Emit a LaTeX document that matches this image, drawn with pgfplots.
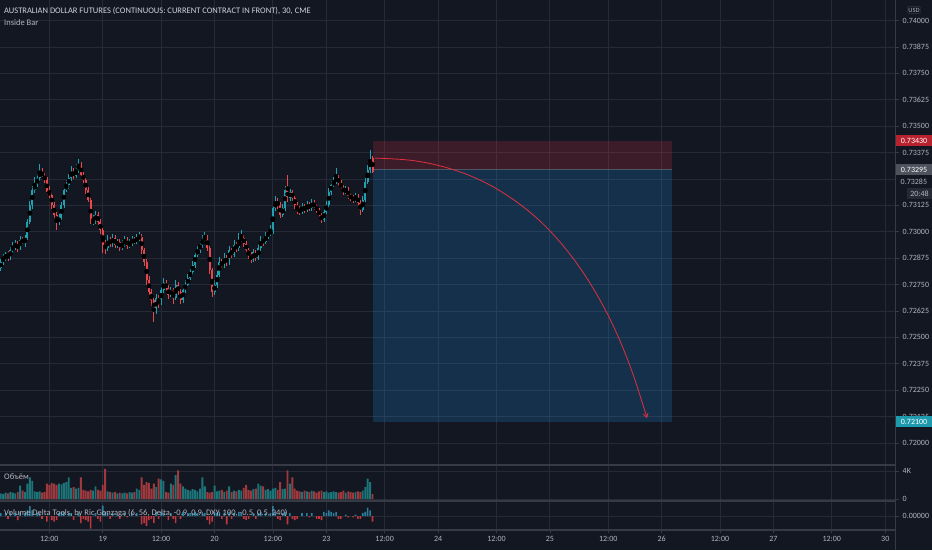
\documentclass[border=0pt]{standalone}
\usepackage{fontspec}
\setmainfont{Carlito}
\usepackage{pgfplots}
\pgfplotsset{compat=1.18}
\usepackage{pgfplotstable}
\usetikzlibrary{arrows.meta}
\definecolor{bg}{HTML}{131722}
\definecolor{gridc}{HTML}{262A36}
\definecolor{sepc}{HTML}{363A45}
\definecolor{txt}{HTML}{B2B5BE}
\definecolor{ttl}{HTML}{D1D4DC}
\definecolor{upc}{HTML}{21A0B0}
\definecolor{dnc}{HTML}{E5484D}
\definecolor{vup}{HTML}{1D7479}
\definecolor{vdn}{HTML}{9E3A3E}
\definecolor{dup}{HTML}{2B7E9C}
\definecolor{ddn}{HTML}{C2363E}
\definecolor{posred}{HTML}{F23645}
\definecolor{posblue}{HTML}{2196F3}
\definecolor{lblred}{HTML}{B8212E}
\definecolor{lblgray}{HTML}{4E525D}
\definecolor{lblteal}{HTML}{1E9AAE}
\definecolor{cntbg}{HTML}{262A35}
\definecolor{arrowc}{HTML}{E0313F}
\definecolor{entryc}{HTML}{4A5566}

\pgfplotstableread{
x o h l c v d
-20 0.72828 0.72870 0.72815 0.72857 800 0.2
-19 0.72857 0.72895 0.72845 0.72876 700 0
-18 0.72876 0.72905 0.72860 0.72890 900 0.2
-17 0.72890 0.72910 0.72860 0.72876 800 -0.2
-16 0.72876 0.72930 0.72866 0.72914 1000 0.3
-15 0.72914 0.72950 0.72900 0.72928 900 0
-14 0.72928 0.72960 0.72915 0.72942 800 0.2
-13 0.72942 0.72955 0.72905 0.72923 1000 -0.3
-12 0.72923 0.72980 0.72915 0.72961 1900 0.3
-11 0.72961 0.72975 0.72940 0.72952 1200 0
-10 0.72952 0.72985 0.72930 0.72971 1000 0.2
-9 0.72971 0.73060 0.72960 0.73046 2200 0.4
-8 0.73046 0.73145 0.73035 0.73127 3100 0.7
-7 0.73127 0.73215 0.73110 0.73198 2600 0.4
-6 0.73198 0.73260 0.73185 0.73222 1100 0
-5 0.73222 0.73275 0.73210 0.73255 1000 0.2
-4 0.73255 0.73320 0.73240 0.73284 1100 0.2
-3 0.73284 0.73300 0.73250 0.73265 900 -0.2
-2 0.73265 0.73280 0.73230 0.73246 1000 0
-1 0.73246 0.73260 0.73175 0.73189 2200 -0.4
0 0.73189 0.73215 0.73160 0.73175 2000 0
1 0.73175 0.73190 0.73110 0.73127 2300 -0.3
2 0.73127 0.73140 0.73060 0.73080 2200 -0.4
3 0.73080 0.73095 0.73010 0.73046 2000 -0.3
4 0.73046 0.73085 0.73030 0.73065 2200 0.2
5 0.73065 0.73140 0.73055 0.73127 2100 0.3
6 0.73127 0.73215 0.73115 0.73198 2300 0.3
7 0.73198 0.73245 0.73190 0.73222 2400 0
8 0.73222 0.73275 0.73205 0.73255 3100 0.2
9 0.73255 0.73310 0.73240 0.73284 1600 0.2
10 0.73284 0.73300 0.73250 0.73265 1700 -0.3
11 0.73265 0.73320 0.73255 0.73293 1500 0
12 0.73293 0.73345 0.73280 0.73317 1600 0.2
13 0.73317 0.73330 0.73255 0.73269 3100 -0.5
14 0.73269 0.73285 0.73230 0.73246 1300 -0.2
15 0.73246 0.73260 0.73180 0.73198 1200 -0.3
16 0.73198 0.73210 0.73140 0.73151 1100 -0.4
17 0.73151 0.73160 0.73035 0.73046 1300 -0.9
18 0.73046 0.73080 0.73030 0.73050 1200 0
19 0.73050 0.73100 0.73035 0.73080 1800 0.2
20 0.73080 0.73095 0.73030 0.73046 1300 -0.2
21 0.73046 0.73060 0.72990 0.73008 1200 -0.4
22 0.73008 0.73020 0.72900 0.72938 2000 0.75
23 0.72938 0.72960 0.72895 0.72923 4300 0.3
24 0.72923 0.72985 0.72910 0.72961 1100 0.2
25 0.72961 0.72975 0.72930 0.72942 1000 -0.2
26 0.72942 0.72990 0.72930 0.72971 900 0.2
27 0.72971 0.72985 0.72925 0.72938 1000 0
28 0.72938 0.72965 0.72925 0.72952 800 0.1
29 0.72952 0.72965 0.72910 0.72923 900 -0.2
30 0.72923 0.72960 0.72915 0.72942 800 0
31 0.72942 0.72980 0.72930 0.72961 900 0.2
32 0.72961 0.72975 0.72920 0.72933 800 -0.1
33 0.72933 0.72965 0.72925 0.72947 1000 0
34 0.72947 0.72980 0.72935 0.72961 900 0.2
35 0.72961 0.72975 0.72940 0.72952 1000 0
36 0.72952 0.72990 0.72940 0.72971 1500 0.2
37 0.72971 0.73000 0.72955 0.72975 1300 0
38 0.72975 0.72990 0.72895 0.72914 3100 -0.6
39 0.72914 0.72925 0.72840 0.72857 2000 -0.5
40 0.72857 0.72870 0.72750 0.72772 2400 -0.7
41 0.72772 0.72790 0.72700 0.72715 2300 -0.3
42 0.72715 0.72730 0.72650 0.72677 1500 -0.2
43 0.72677 0.72690 0.72573 0.72630 2200 -0.5
44 0.72630 0.72705 0.72610 0.72686 1700 0.3
45 0.72686 0.72700 0.72640 0.72667 2900 -0.2
46 0.72667 0.72745 0.72655 0.72724 2800 0.3
47 0.72724 0.72780 0.72710 0.72757 2600 0.2
48 0.72757 0.72770 0.72720 0.72734 1000 0
49 0.72734 0.72750 0.72680 0.72700 900 -0.3
50 0.72700 0.72740 0.72690 0.72724 2200 0.2
51 0.72724 0.72735 0.72660 0.72686 2000 -0.2
52 0.72686 0.72770 0.72675 0.72748 3400 -0.5
53 0.72748 0.72760 0.72700 0.72715 4100 0
54 0.72715 0.72730 0.72660 0.72677 2200 -0.2
55 0.72677 0.72740 0.72665 0.72724 1800 0.3
56 0.72724 0.72770 0.72710 0.72748 1500 0
57 0.72748 0.72800 0.72735 0.72781 1300 0.2
58 0.72781 0.72830 0.72770 0.72809 1200 0.2
59 0.72809 0.72860 0.72795 0.72843 1400 0.2
60 0.72843 0.72910 0.72830 0.72890 1300 0.3
61 0.72890 0.72935 0.72880 0.72914 1100 0.2
62 0.72914 0.72960 0.72900 0.72938 1500 0
63 0.72938 0.72985 0.72925 0.72961 3100 0.3
64 0.72961 0.73000 0.72950 0.72975 1800 0.2
65 0.72975 0.72985 0.72910 0.72923 1000 -0.3
66 0.72923 0.72935 0.72800 0.72819 900 -0.6
67 0.72819 0.72830 0.72690 0.72715 1000 -0.4
68 0.72715 0.72770 0.72700 0.72748 1900 0.3
69 0.72748 0.72815 0.72735 0.72795 1100 0.2
70 0.72795 0.72880 0.72785 0.72857 1200 0.3
71 0.72857 0.72870 0.72825 0.72843 1300 -0.2
72 0.72843 0.72900 0.72830 0.72876 1000 0.2
73 0.72876 0.72890 0.72840 0.72857 1200 -0.6
74 0.72857 0.72935 0.72845 0.72914 1800 0.3
75 0.72914 0.72925 0.72875 0.72890 1000 -0.2
76 0.72890 0.72960 0.72880 0.72938 1200 0.2
77 0.72938 0.72950 0.72905 0.72923 1100 0
78 0.72923 0.72995 0.72910 0.72961 1300 0.3
79 0.72961 0.73010 0.72950 0.72971 1200 0.2
80 0.72971 0.72985 0.72930 0.72942 1600 -0.2
81 0.72942 0.72955 0.72900 0.72914 2000 -0.3
82 0.72914 0.72925 0.72870 0.72890 1300 -0.2
83 0.72890 0.72905 0.72850 0.72866 1200 0
84 0.72866 0.72920 0.72855 0.72904 1400 0.2
85 0.72904 0.72915 0.72860 0.72876 1500 -0.2
86 0.72876 0.72940 0.72865 0.72923 2200 0.2
87 0.72923 0.72980 0.72910 0.72961 1900 0.3
88 0.72961 0.72975 0.72935 0.72952 1800 0
89 0.72952 0.73000 0.72940 0.72980 1300 0.2
90 0.72980 0.73010 0.72965 0.72994 1400 0
91 0.72994 0.73030 0.72980 0.72999 1200 0.2
92 0.72999 0.73135 0.72990 0.73113 1500 0.7
93 0.73113 0.73170 0.73100 0.73137 1600 0.3
94 0.73137 0.73160 0.73110 0.73127 1300 -0.2
95 0.73127 0.73140 0.73065 0.73080 2400 -0.3
96 0.73080 0.73130 0.73070 0.73113 1400 0.2
97 0.73113 0.73215 0.73100 0.73198 1500 0.3
98 0.73198 0.73269 0.73140 0.73160 4100 -0.6
99 0.73160 0.73205 0.73145 0.73189 2200 0.2
100 0.73189 0.73200 0.73145 0.73160 3100 -0.2
101 0.73160 0.73175 0.73110 0.73127 1500 -0.3
102 0.73127 0.73140 0.73085 0.73103 1200 -0.2
103 0.73103 0.73120 0.73080 0.73094 1100 0
104 0.73094 0.73135 0.73085 0.73118 1000 0.2
105 0.73118 0.73130 0.73090 0.73103 1200 0
106 0.73103 0.73145 0.73095 0.73127 1100 0.2
107 0.73127 0.73140 0.73100 0.73113 1000 -0.1
108 0.73113 0.73155 0.73100 0.73137 1200 0.2
109 0.73137 0.73150 0.73105 0.73118 1100 0
110 0.73118 0.73130 0.73090 0.73103 900 -0.2
111 0.73103 0.73115 0.73065 0.73080 1100 -0.2
112 0.73080 0.73090 0.73040 0.73056 1200 -0.3
113 0.73056 0.73110 0.73045 0.73094 1000 0.3
114 0.73094 0.73145 0.73085 0.73127 1100 0.2
115 0.73127 0.73205 0.73115 0.73189 900 0.4
116 0.73189 0.73240 0.73175 0.73222 1000 0.3
117 0.73222 0.73260 0.73210 0.73236 1100 0.2
118 0.73236 0.73302 0.73225 0.73255 1000 0.3
119 0.73255 0.73270 0.73215 0.73231 900 -0.2
120 0.73231 0.73245 0.73195 0.73208 1000 -0.2
121 0.73208 0.73220 0.73175 0.73189 1200 0
122 0.73189 0.73215 0.73180 0.73198 900 0.1
123 0.73198 0.73210 0.73155 0.73170 1100 -0.1
124 0.73170 0.73185 0.73145 0.73160 1000 0
125 0.73160 0.73175 0.73135 0.73151 900 -0.1
126 0.73151 0.73185 0.73140 0.73165 1000 0.1
127 0.73165 0.73180 0.73120 0.73137 1100 -0.2
128 0.73137 0.73150 0.73080 0.73103 1000 -0.2
129 0.73103 0.73170 0.73095 0.73151 1200 0.2
130 0.73151 0.73255 0.73140 0.73236 1700 0.3
131 0.73236 0.73315 0.73225 0.73293 2900 0.6
132 0.73293 0.73388 0.73280 0.73340 2400 0.4
133 0.73350 0.73360 0.73280 0.73285 700 -0.4
}\candles

\pgfplotsset{
  tv/.style={scale only axis, width=895.7pt, xmin=-20.29, xmax=348.3,
    axis line style={draw=none},
    xtick={0,22,46,68,92,114,138,160,184,206,230,252,276,298,322,344},
    xmajorgrids, ymajorgrids, major grid style={draw=gridc, line width=0.9pt},
    ytick pos=right, yticklabel pos=right,
    tick align=outside, major tick length=3pt,
    xtick style={draw=none}, ytick style={draw=sepc, line width=0.7pt},
    tick label style={font=\fontsize{8}{9}\selectfont, text=txt},
    yticklabel style={anchor=west, xshift=0.5pt},
  },
  wick/.style={only marks, mark=none, forget plot, unbounded coords=discard,
    error bars/.cd, y dir=both, y explicit, error mark=none,
    error bar style={draw=#1, line width=0.75pt, solid}},
  body/.style={only marks, mark=none, forget plot, unbounded coords=discard,
    error bars/.cd, y dir=both, y explicit, error mark=none,
    error bar style={draw=#1, line width=2pt, solid}},
}

\begin{document}
\begin{tikzpicture}
\fill[bg] (0pt,0pt) rectangle (932pt,550pt);
\useasboundingbox (0pt,0pt) rectangle (932pt,550pt);

% ---------------- main price panel ----------------
\begin{axis}[tv, name=main, at={(0pt,85pt)}, anchor=south west, height=465pt,
  ymin=0.718958, ymax=0.740975, xticklabels={},
  ytick={0.72000,0.72125,0.72250,0.72375,0.72500,0.72625,0.72750,0.72875,0.73000,0.73125,0.73250,0.73375,0.73500,0.73625,0.73750,0.73875,0.74000},
  yticklabels={0.72000,0.72125,0.72250,0.72375,0.72500,0.72625,0.72750,0.72875,0.73000,0.73125,{},0.73375,0.73500,0.73625,0.73750,0.73875,0.74000},
]
% position tool zones
\addplot[fill=posred, fill opacity=0.18, draw=none, forget plot]
  coordinates {(133.1,0.73430) (256.4,0.73430) (256.4,0.73295) (133.1,0.73295)} -- cycle;
\addplot[fill=posblue, fill opacity=0.2, draw=none, forget plot]
  coordinates {(133.1,0.73295) (256.4,0.73295) (256.4,0.72100) (133.1,0.72100)} -- cycle;
\addplot[draw=entryc, line width=0.9pt, forget plot]
  coordinates {(133.1,0.73295) (256.4,0.73295)};

% candles
\addplot[wick=upc] table[x=x, y expr={\thisrow{c}>=\thisrow{o} ? 0.5*(\thisrow{h}+\thisrow{l}) : nan}, y error expr={0.5*(\thisrow{h}-\thisrow{l})}] {\candles};
\addplot[body=upc] table[x=x, y expr={\thisrow{c}>=\thisrow{o} ? 0.5*(\thisrow{o}+\thisrow{c}) : nan}, y error expr={0.5*abs(\thisrow{c}-\thisrow{o})}] {\candles};
\addplot[wick=dnc] table[x=x, y expr={\thisrow{c}<\thisrow{o} ? 0.5*(\thisrow{h}+\thisrow{l}) : nan}, y error expr={0.5*(\thisrow{h}-\thisrow{l})}] {\candles};
\addplot[body=dnc] table[x=x, y expr={\thisrow{c}<\thisrow{o} ? 0.5*(\thisrow{o}+\thisrow{c}) : nan}, y error expr={0.5*abs(\thisrow{c}-\thisrow{o})}] {\candles};

% projected path arrow
\addplot[arrowc, line width=0.8pt, smooth, tension=0.6, forget plot, -{Straight Barb[length=4pt,width=5pt]}]
  coordinates {(134.03,0.73349) (149.84,0.73337) (164.61,0.73300) (178.31,0.73239) (191.03,0.73152)
  (202.76,0.73042) (213.42,0.72906) (223.09,0.72746) (231.77,0.72562) (239.38,0.72352) (245.97,0.72118)};

\coordinate (pA) at (axis cs:0,0.73430);
\coordinate (pB) at (axis cs:0,0.73295);
\coordinate (pC) at (axis cs:0,0.73285);
\coordinate (pD) at (axis cs:0,0.72100);
\end{axis}

% ---------------- volume panel ----------------
\begin{axis}[tv, at={(0pt,49pt)}, anchor=south west, height=35pt,
  ymin=-286, ymax=4714, xticklabels={},
  ytick={0,4000}, yticklabels={0,4K}]
\addplot[ybar, bar width=1.9pt, bar shift=0pt, fill=vup, draw=none, unbounded coords=discard, forget plot]
  table[x=x, y expr={\thisrow{c}>=\thisrow{o} ? \thisrow{v} : nan}] {\candles};
\addplot[ybar, bar width=1.9pt, bar shift=0pt, fill=vdn, draw=none, unbounded coords=discard, forget plot]
  table[x=x, y expr={\thisrow{c}<\thisrow{o} ? \thisrow{v} : nan}] {\candles};
\end{axis}

% ---------------- delta panel ----------------
\begin{axis}[tv, at={(0pt,20pt)}, anchor=south west, height=28pt,
  ymin=-1, ymax=1, ytick={0}, yticklabels={0.00000},
  xtick style={draw=sepc, line width=0.7pt},
  xticklabels={12:00,19,12:00,20,12:00,23,12:00,24,12:00,25,12:00,26,12:00,27,12:00,30}]
\addplot[ybar, bar width=1.6pt, bar shift=0pt, fill=dup, draw=none, unbounded coords=discard, forget plot]
  table[x=x, y expr={\thisrow{d}>0 ? \thisrow{d} : nan}] {\candles};
\addplot[ybar, bar width=1.6pt, bar shift=0pt, fill=ddn, draw=none, unbounded coords=discard, forget plot]
  table[x=x, y expr={\thisrow{d}<0 ? \thisrow{d} : nan}] {\candles};
\end{axis}

% separators
\draw[sepc, line width=1.6pt] (0pt,85pt) -- (895.7pt,85pt);
\draw[sepc, line width=1.6pt] (0pt,49pt) -- (895.7pt,49pt);
\draw[sepc, line width=1.6pt] (0pt,20pt) -- (895.7pt,20pt);
\draw[sepc, line width=1pt] (895.7pt,0pt) -- (895.7pt,550pt);

% price scale labels
\begin{scope}[every node/.style={font=\fontsize{8}{9}\selectfont, minimum height=11pt, inner xsep=0pt, inner ysep=0pt}]
\node[fill=lblred, text=white, anchor=west, minimum width=36.3pt] at (main.east |- pA) {0.73430};
\node[fill=lblgray, text=white, anchor=west, minimum width=36.3pt] at (main.east |- pB) {0.73295};
\node[fill=bg, text=txt, anchor=west, minimum width=36pt] at ([yshift=-10pt]main.east |- pC) {0.73285};
\node[fill=cntbg, text=txt, anchor=west, minimum width=25.3pt] at ([xshift=11pt,yshift=-22pt]main.east |- pC) {20:48};
\node[fill=lblteal, text=white, anchor=west, minimum width=36.3pt] at (main.east |- pD) {0.72100};
\end{scope}
\node[draw=sepc, rounded corners=1.5pt, text=txt, font=\fontsize{6.5}{7}\selectfont, inner sep=1.2pt] at (914pt,540pt) {USD};

% titles
\node[anchor=west, text=ttl, font=\fontsize{8.5}{10}\selectfont, inner sep=0pt] at (4pt,539pt) {AUSTRALIAN DOLLAR FUTURES (CONTINUOUS: CURRENT CONTRACT IN FRONT), 30, CME};
\node[anchor=west, text=txt, font=\fontsize{8.5}{10}\selectfont, inner sep=0pt] at (4pt,527pt) {Inside Bar};
\node[anchor=west, text=txt, font=\fontsize{8.5}{10}\selectfont, inner sep=0pt] at (4pt,73pt) {Объём};
\node[anchor=west, text=txt, font=\fontsize{8.5}{10}\selectfont, inner sep=0pt] at (4pt,37pt) {Volume Delta Tools, by Ric Gonzaga (6, 56, Delta, -0.9, 0.9, DXY, 100, -0.5, 0.5, 240)};
\end{tikzpicture}
\end{document}
